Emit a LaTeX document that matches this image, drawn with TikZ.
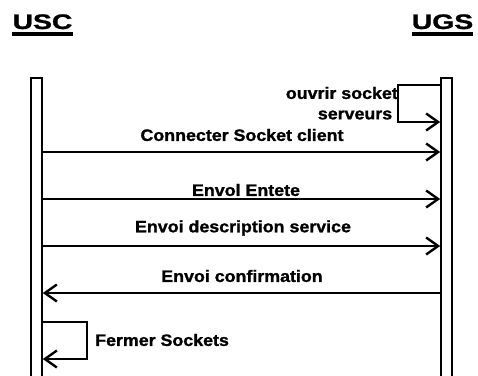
\documentclass[tikz,border=0pt]{standalone}
\usepackage{fontspec}
\usepackage{graphicx}
\setmainfont{Liberation Sans}[BoldFeatures={FakeBold=1.2}]
\usetikzlibrary{arrows.meta}
\newcommand\wtxt[1]{\scalebox{1.08}[1]{#1}}
\newcommand\wtitle[1]{\scalebox{1.35}[1]{#1}}
\begin{document}
\begin{tikzpicture}[x=1pt,y=-1pt,
  lbl/.style={font=\bfseries\fontsize{16.5}{18}\selectfont, inner sep=0pt},
  ttl/.style={font=\bfseries\fontsize{21}{24}\selectfont, inner sep=0pt, anchor=base},
  lifebox/.style={draw, line width=1.6pt, minimum width=11pt, minimum height=310pt, inner sep=0pt, anchor=north},
  msg/.style={line width=2.4pt, -{Straight Barb[length=12pt,width=17pt,line width=2.4pt]}},
  selfmsg/.style={line width=2.4pt, -{Straight Barb[length=12pt,width=17pt,line width=2.4pt]}}
]
\useasboundingbox (0,0) rectangle (478,375);
% titles
\node[ttl] (usc) at (42.5,29) {\wtitle{USC}};
\node[ttl] (ugs) at (442.5,29) {\wtitle{UGS}};
\draw[line width=3.5pt] (usc.west |- 0,34) -- (usc.east |- 0,34);
\draw[line width=3.5pt] (ugs.west |- 0,34) -- (ugs.east |- 0,34);
% lifelines
\node[lifebox] (L) at (36.5,77) {};
\node[lifebox] (R) at (446.5,77) {};
% self message on UGS
\coordinate (s1a) at (398,85);
\coordinate (s1b) at (398,122);
\draw[selfmsg] (R.west |- 0,85) -- (s1a) -- (s1b) -- (R.west |- s1b);
\node[lbl, anchor=east] (t1) at (398,93) {\wtxt{ouvrir socket}};
\node[lbl] (t1b) at (355,115) {\wtxt{serveurs}};
% messages
\node[lbl] (m1) at (242,135) {\wtxt{Connecter Socket client}};
\draw[msg] (L.east |- 0,152) -- (R.west |- 0,152);
\node[lbl] (m2) at (246,190) {\wtxt{Envol Entete}};
\draw[msg] (L.east |- 0,199) -- (R.west |- 0,199);
\node[lbl] (m3) at (243,228) {\wtxt{Envoi description service}};
\draw[msg] (L.east |- 0,246) -- (R.west |- 0,246);
\node[lbl] (m4) at (242,276) {\wtxt{Envoi confirmation}};
\draw[msg] (R.west |- 0,293) -- (L.east |- 0,293);
% self message on USC
\coordinate (s2a) at (87,322);
\coordinate (s2b) at (87,359);
\draw[selfmsg] (L.east |- 0,322) -- (s2a) -- (s2b) -- (L.east |- s2b);
\node[lbl, anchor=west] (t2) at (95,340) {\wtxt{Fermer Sockets}};
\end{tikzpicture}
\end{document}
